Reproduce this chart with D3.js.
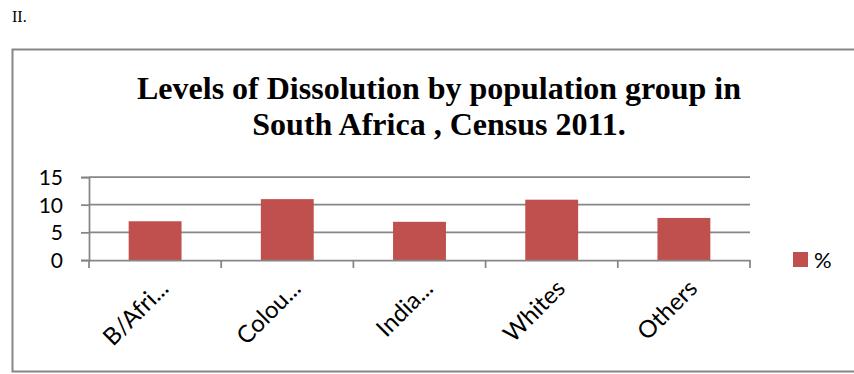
<!doctype html>
<html>
<head>
    <title>Levels of Dissolution</title>
    <script src="https://d3js.org/d3.v7.min.js"></script>
</head>
<style>
    body { margin: 0; background: #fff; }
    .axis text { font-family: Lato, "Open Sans", sans-serif; fill: #000; }
</style>
<body>
<script>

    // chart data
    var categories = ['B/Afri...', 'Colou...', 'India...', 'Whites', 'Others'];
    var percentValues = [7.0, 11.0, 6.9, 10.9, 7.6];
    var yTicks = [0, 5, 10, 15];
    var seriesName = '%';

    var canvasWidth = 854;
    var canvasHeight = 374;
    var barColour = '#c0504d';
    var lineColour = '#868686';

    var svg = d3.select('body')
                .append('svg')
                .attr('width', canvasWidth)
                .attr('height', canvasHeight);

    // section label above the chart box
    svg.append('text')
       .attr('x', 12)
       .attr('y', 22)
       .style('font-family', '"Liberation Serif", "Times New Roman", serif')
       .style('font-size', '16px')
       .text('II.');

    // chart frame
    svg.append('rect')
       .attr('x', 12.5)
       .attr('y', 49.5)
       .attr('width', 900)
       .attr('height', 322)
       .attr('fill', 'none')
       .attr('stroke', lineColour)
       .attr('stroke-width', 2);

    // title
    var title = svg.append('text')
                   .attr('text-anchor', 'middle')
                   .style('font-family', '"Liberation Serif", "Times New Roman", serif')
                   .style('font-weight', 'bold')
                   .style('font-size', '32px');
    title.append('tspan').attr('x', 439).attr('y', 99).text('Levels of Dissolution by population group in');
    title.append('tspan').attr('x', 439).attr('y', 135).text('South Africa , Census 2011.');

    // scales
    var xScale = d3.scaleBand()
                   .domain(categories)
                   .range([89, 750])
                   .paddingInner(0.6)
                   .paddingOuter(0.3);

    var yScale = d3.scaleLinear()
                   .domain([0, 15])
                   .range([260, 177]);

    // gridlines
    svg.append('g')
       .selectAll('line')
       .data(yTicks.slice(1))
       .enter()
       .append('line')
       .attr('x1', 89)
       .attr('x2', 750)
       .attr('y1', function(d) { return yScale(d); })
       .attr('y2', function(d) { return yScale(d); })
       .attr('stroke', lineColour)
       .attr('stroke-width', 1.75);

    // bars
    svg.append('g')
       .selectAll('rect')
       .data(percentValues)
       .enter()
       .append('rect')
       .attr('x', function(d, i) { return xScale(categories[i]); })
       .attr('y', function(d) { return yScale(d); })
       .attr('width', xScale.bandwidth())
       .attr('height', function(d) { return yScale(0) - yScale(d); })
       .attr('fill', barColour);

    // y axis
    var yAxis = d3.axisLeft(yScale)
                  .tickValues(yTicks)
                  .tickSize(8)
                  .tickPadding(18);

    var yG = svg.append('g')
                .attr('class', 'axis')
                .attr('transform', 'translate(89, 0)')
                .call(yAxis);
    yG.select('.domain').attr('stroke', lineColour).attr('stroke-width', 1.75);
    yG.selectAll('line').attr('stroke', lineColour).attr('stroke-width', 1.75);
    yG.selectAll('text').style('font-size', '21px').attr('dy', '0.35em');

    // x axis, ticks between categories
    var xAxis = d3.axisBottom(xScale)
                  .tickSize(0)
                  .tickFormat('');

    var xG = svg.append('g')
                .attr('class', 'axis')
                .attr('transform', 'translate(0, 260)')
                .call(xAxis);
    xG.select('.domain').attr('stroke', lineColour).attr('stroke-width', 1.75);

    var step = xScale.step();
    xG.selectAll('.sep')
      .data(d3.range(categories.length + 1))
      .enter()
      .append('line')
      .attr('x1', function(d) { return 89 + d * step; })
      .attr('x2', function(d) { return 89 + d * step; })
      .attr('y1', 0)
      .attr('y2', 8)
      .attr('stroke', lineColour)
      .attr('stroke-width', 1.75);

    // rotated category labels
    xG.selectAll('.lbl')
      .data(categories)
      .enter()
      .append('text')
      .attr('class', 'lbl')
      .attr('text-anchor', 'end')
      .attr('transform', function(d) {
          var cx = xScale(d) + xScale.bandwidth() / 2;
          return 'translate(' + (cx + 15) + ', 30) rotate(-45)';
      })
      .style('font-size', '24px')
      .text(function(d) { return d; });

    // legend
    svg.append('rect')
       .attr('x', 793)
       .attr('y', 252)
       .attr('width', 15)
       .attr('height', 15)
       .attr('fill', barColour);
    svg.append('text')
       .attr('x', 814)
       .attr('y', 268)
       .style('font-family', 'Lato, "Open Sans", sans-serif')
       .style('font-size', '22px')
       .text(seriesName);

</script>
</body>
</html>
